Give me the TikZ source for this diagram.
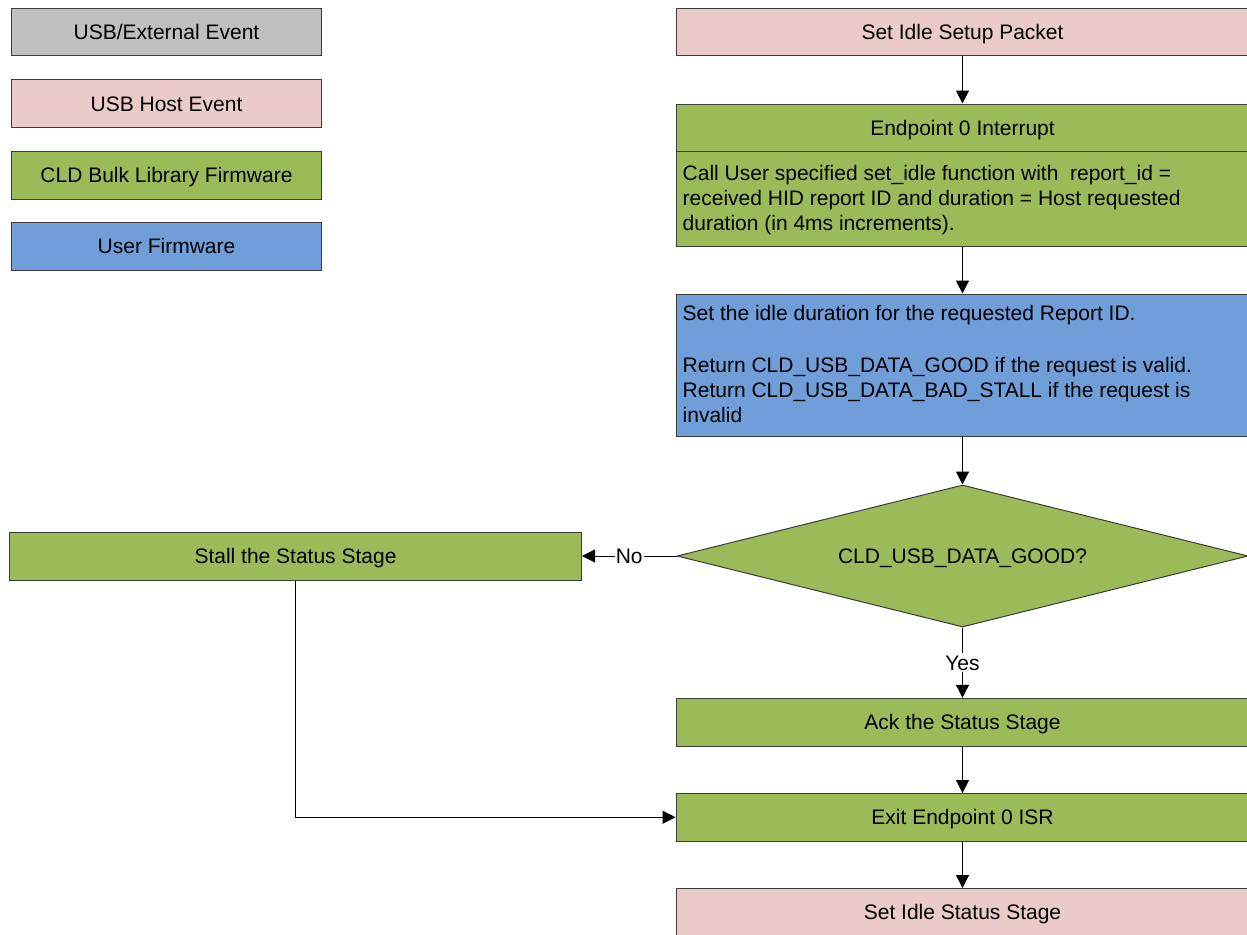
\documentclass[tikz,border=0pt]{standalone}
\usepackage{fontspec}
\setmainfont{Liberation Sans}
\usetikzlibrary{shapes.geometric,arrows.meta}
\definecolor{cgray}{HTML}{BFBFBF}
\definecolor{cpink}{HTML}{EBCBCA}
\definecolor{cgreen}{HTML}{9BBB59}
\definecolor{cblue}{HTML}{6F9ED9}
\definecolor{cborder}{HTML}{3C3C3C}
\begin{document}
\begin{tikzpicture}[x=1pt,y=-1pt,
  every node/.style={font=\fontsize{21}{25.5}\selectfont, text=black},
  box/.style={draw=cborder, line width=1pt, rectangle, inner sep=0pt, text height=15pt, text depth=0pt},
  lbl/.style={inner sep=0pt, text height=15pt, text depth=0pt},
  linetext/.style={inner sep=0pt, anchor=base west},
  conn/.style={draw=black, line width=1pt, -{Triangle[length=13pt,width=13pt]}}]
\useasboundingbox (0,0) rectangle (1247,934);
\clip (0,0) rectangle (1247,934);
\fill[white] (0,0) rectangle (1247,934);

% legend
\node[box, fill=cgray,  minimum width=310pt, minimum height=47pt]   (l1) at (166.5,32)    {USB/External Event};
\node[box, fill=cpink,  minimum width=310pt, minimum height=48pt]   (l2) at (166.5,103.5) {USB Host Event};
\node[box, fill=cgreen, minimum width=310pt, minimum height=48pt]   (l3) at (166.5,175)   {CLD Bulk Library Firmware};
\node[box, fill=cblue,  minimum width=310pt, minimum height=47.5pt] (l4) at (166.5,246.25){User Firmware};

% main column
\node[box, fill=cpink, minimum width=573pt, minimum height=47pt] (setup) at (962.5,32.5) {Set Idle Setup Packet};

\node[box, fill=cgreen, minimum width=573pt, minimum height=142pt] (ep0) at (962.5,175) {};
\draw[draw=cborder, line width=1pt] (676,151.7) -- (1249,151.7);
\node[lbl] (ep0t) at (962.5,127.9) {Endpoint 0 Interrupt};
\node[linetext] (ep0a) at (682.5,180.7) {Call User specified set\_idle function with~ report\_id =};
\node[linetext] (ep0b) at (682.5,205.5) {received HID report ID and duration = Host requested};
\node[linetext] (ep0c) at (682.5,230.3) {duration (in 4ms increments).};

\node[box, fill=cblue, minimum width=573pt, minimum height=142.5pt] (user) at (962.5,365.25) {};
\node[linetext] (usera) at (682.5,320.7) {Set the idle duration for the requested Report ID.};
\node[linetext] (userb) at (682.5,372.3) {Return CLD\_USB\_DATA\_GOOD if the request is valid.};
\node[linetext] (userc) at (682.5,397.3) {Return CLD\_USB\_DATA\_BAD\_STALL if the request is};
\node[linetext] (userd) at (682.5,422.3) {invalid};

\node[diamond, draw=cborder, line width=1pt, fill=cgreen, aspect=4.02, inner sep=0pt,
      minimum width=571pt, minimum height=142pt] (dia) at (962.5,556) {};
\node[lbl] (diat) at (962.5,556) {CLD\_USB\_DATA\_GOOD?};

\node[box, fill=cgreen, minimum width=572pt, minimum height=48pt] (stall) at (295.5,556) {Stall the Status Stage};

\node[box, fill=cgreen, minimum width=573pt, minimum height=47.7pt] (ack) at (962.5,722.15) {Ack the Status Stage};
\node[box, fill=cgreen, minimum width=573pt, minimum height=47.5pt] (exit) at (962.5,817.25) {Exit Endpoint 0 ISR};
\node[box, fill=cpink, minimum width=573pt, minimum height=47.5pt] (status) at (962.5,912.25) {Set Idle Status Stage};

% connectors
\draw[conn] (setup.south) -- (ep0.north);
\draw[conn] (ep0.south) -- (user.north);
\draw[conn] (user.south) -- (dia.north);
\draw[conn] (dia.south) -- node[lbl, fill=white, inner sep=2pt] (yes) {Yes} (ack.north);
\draw[conn] (ack.south) -- (exit.north);
\draw[conn] (exit.south) -- (status.north);
\draw[conn] (dia.west) -- node[lbl, fill=white, inner sep=1pt] (no) {No} (stall.east);
\draw[conn] (stall.south) |- (exit.west);
\end{tikzpicture}
\end{document}
